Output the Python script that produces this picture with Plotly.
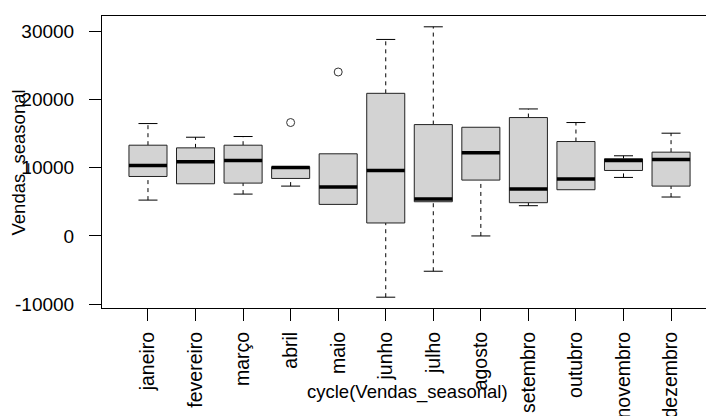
import plotly.graph_objects as go

# Monthly distribution of Vendas_seasonal (boxplot statistics per month)
months = ["janeiro", "fevereiro", "março", "abril", "maio", "junho",
          "julho", "agosto", "setembro", "outubro", "novembro", "dezembro"]
lower_whisker = [5250, 7640, 6130, 7300, 4620, -8970, -5170, 0, 4430, 6770, 8570, 5700]
q1 = [8710, 7640, 7740, 8420, 4620, 1900, 5010, 8180, 4870, 6770, 9590, 7300]
median = [10320, 10860, 11050, 10030, 7160, 9590, 5400, 12170, 6860, 8330, 11050, 11200]
q3 = [13290, 12900, 13290, 10130, 12030, 20890, 16310, 15920, 17340, 13830, 11300, 12270]
upper_whisker = [16460, 14460, 14560, 10130, 12030, 28780, 30630, 15920, 18600, 16610, 11740, 15050]
outlier_month = [4, 5]
outlier_value = [16610, 24010]

pos = list(range(1, len(months) + 1))
half_box = 0.4      # boxwex 0.8
half_cap = 0.2      # staple at half the box width

fig = go.Figure()

# dashed whiskers
wx, wy = [], []
for p, lo, a, b, hi in zip(pos, lower_whisker, q1, q3, upper_whisker):
    if hi > b:
        wx += [p, p, None]
        wy += [b, hi, None]
    if lo < a:
        wx += [p, p, None]
        wy += [lo, a, None]
fig.add_trace(go.Scatter(x=wx, y=wy, mode="lines",
                         line=dict(color="black", width=1, dash="4px,4px"),
                         hoverinfo="skip"))

# whisker caps
cx, cy = [], []
for p, lo, a, b, hi in zip(pos, lower_whisker, q1, q3, upper_whisker):
    if hi > b:
        cx += [p - half_cap, p + half_cap, None]
        cy += [hi, hi, None]
    if lo < a:
        cx += [p - half_cap, p + half_cap, None]
        cy += [lo, lo, None]
fig.add_trace(go.Scatter(x=cx, y=cy, mode="lines",
                         line=dict(color="black", width=1),
                         hoverinfo="skip"))

# boxes (Q1 to Q3)
bx, by = [], []
for p, a, b in zip(pos, q1, q3):
    bx += [p - half_box, p + half_box, p + half_box, p - half_box, p - half_box, None]
    by += [a, a, b, b, a, None]
fig.add_trace(go.Scatter(x=bx, y=by, mode="lines", fill="toself",
                         fillcolor="#d3d3d3",
                         line=dict(color="#222222", width=1),
                         hoverinfo="skip"))

# medians
mx, my = [], []
for p, m in zip(pos, median):
    mx += [p - half_box, p + half_box, None]
    my += [m, m, None]
fig.add_trace(go.Scatter(x=mx, y=my, mode="lines",
                         line=dict(color="black", width=3.5),
                         hoverinfo="skip"))

# outliers
fig.add_trace(go.Scatter(x=outlier_month, y=outlier_value, mode="markers",
                         marker=dict(symbol="circle-open", size=8,
                                     color="#333333", line=dict(width=1)),
                         hoverinfo="skip"))

all_vals = lower_whisker + upper_whisker + outlier_value
lo_v, hi_v = min(all_vals), max(all_vals)
pad = 0.04 * (hi_v - lo_v)

font = dict(family="Liberation Sans, Arial, sans-serif", color="black")

fig.update_layout(
    width=706, height=416,
    margin=dict(l=102, r=0, t=16, b=108),
    plot_bgcolor="white", paper_bgcolor="white",
    showlegend=False,
    font=dict(**font, size=19),
    xaxis=dict(
        range=[0.033, 12.735],
        tickmode="array", tickvals=pos, ticktext=months,
        tickangle=-90,
        ticks="outside", ticklen=12, tickcolor="black", tickwidth=1,
        ticklabelstandoff=3,
        showline=True, linecolor="black", linewidth=1, mirror=True,
        showgrid=False, zeroline=False, automargin=False,
        tickfont=dict(**font, size=19.5),
    ),
    yaxis=dict(
        range=[lo_v - pad, hi_v + pad],
        tickmode="array", tickvals=[-10000, 0, 10000, 20000, 30000],
        ticktext=["-10000", "0", "10000", "20000", "30000"],
        ticks="outside", ticklen=12, tickcolor="black", tickwidth=1,
        ticklabelstandoff=11,
        showline=True, linecolor="black", linewidth=1,
        showgrid=False, zeroline=False, automargin=False,
        tickfont=dict(**font, size=19),
    ),
    annotations=[
        dict(text="cycle(Vendas_seasonal)", xref="paper", yref="paper",
             x=0.5058, y=0, xanchor="center", yanchor="middle", yshift=-84,
             showarrow=False, font=dict(**font, size=18.5)),
        dict(text="Vendas_seasonal", xref="paper", yref="paper",
             x=-0.1366, y=0.5, xanchor="center", yanchor="middle",
             textangle=-90, showarrow=False, font=dict(**font, size=18.5)),
    ],
)

fig.write_html("out.html")
